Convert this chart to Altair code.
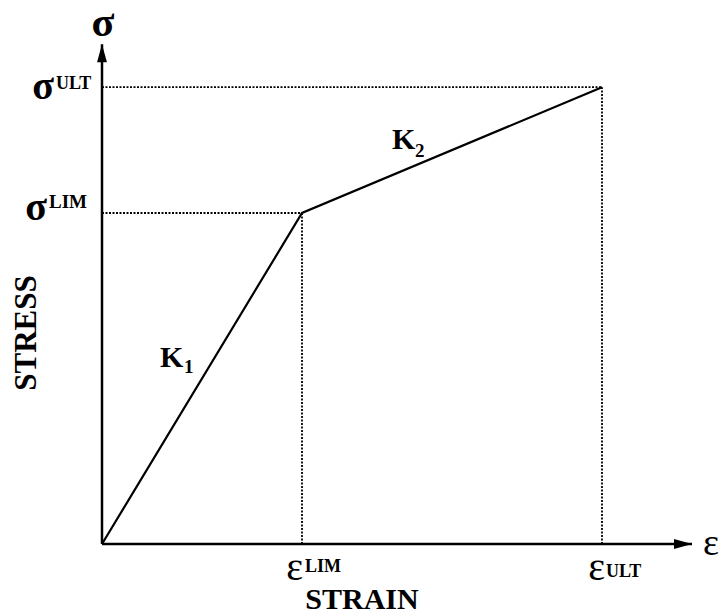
import altair as alt
import pandas as pd

# Bilinear stress-strain law (normalised units)
point_names = ["O", "LIM", "ULT"]
strain_pts = [0.0, 1.0, 2.5]
stress_pts = [0.0, 1.0, 1.38]

# Extent of the drawn axes (arrow tips)
strain_axis_end = 2.95
stress_axis_end = 1.51

W, H = 719, 615
FONT = "Liberation Serif"

x_scale = alt.Scale(domain=[-0.51, 3.085], nice=False, zero=False)
y_scale = alt.Scale(domain=[-0.2145, 1.6435], nice=False, zero=False)
no_axis = None

curve_df = pd.DataFrame({"name": point_names, "strain": strain_pts,
                         "stress": stress_pts, "order": [0, 1, 2]})

# Dotted guide lines from the break points to both axes
guides = []
for n, e, s in zip(point_names[1:], strain_pts[1:], stress_pts[1:]):
    guides.append({"x": 0.0, "x2": e, "y": s, "y2": s})
    guides.append({"x": e, "x2": e, "y": 0.0, "y2": s})
guide_df = pd.DataFrame(guides)

axes_df = pd.DataFrame([
    {"x": 0.0, "x2": strain_axis_end, "y": 0.0, "y2": 0.0},
    {"x": 0.0, "x2": 0.0, "y": 0.0, "y2": stress_axis_end},
])

X = lambda f="x": alt.X(f"{f}:Q", scale=x_scale, axis=no_axis)
Y = lambda f="y": alt.Y(f"{f}:Q", scale=y_scale, axis=no_axis)

guide_layer = alt.Chart(guide_df).mark_rule(
    color="black", strokeWidth=1.8, strokeDash=[2, 1.5]
).encode(x=X(), x2="x2:Q", y=Y(), y2="y2:Q")

axes_layer = alt.Chart(axes_df).mark_rule(
    color="black", strokeWidth=2.5
).encode(x=X(), x2="x2:Q", y=Y(), y2="y2:Q")

x_arrow = alt.Chart(pd.DataFrame({"x": [strain_axis_end], "y": [0.0]})).mark_point(
    shape="M0,0L-2,-0.55L-2,0.55Z", size=324, filled=True, color="black", opacity=1
).encode(x=X(), y=Y())

y_arrow = alt.Chart(pd.DataFrame({"x": [0.0], "y": [stress_axis_end]})).mark_point(
    shape="M0,0L-0.55,2L0.55,2Z", size=324, filled=True, color="black", opacity=1
).encode(x=X(), y=Y())

curve = alt.Chart(curve_df).mark_line(color="black", strokeWidth=2.2).encode(
    x=alt.X("strain:Q", scale=x_scale, axis=no_axis),
    y=alt.Y("stress:Q", scale=y_scale, axis=no_axis),
    order="order:Q",
)


def label(xv, yv, text, size, dx=0, dy=0, align="left", baseline="alphabetic",
          weight="bold"):
    return alt.Chart(pd.DataFrame({"x": [xv], "y": [yv]})).mark_text(
        text=text, font=FONT, fontSize=size, fontWeight=weight, color="black",
        align=align, baseline=baseline, dx=dx, dy=dy,
    ).encode(x=X(), y=Y())


e_lim, e_ult = strain_pts[1], strain_pts[2]
s_lim, s_ult = stress_pts[1], stress_pts[2]
k1_x, k1_y = (strain_pts[0] + e_lim) / 2, (stress_pts[0] + s_lim) / 2
k2_x, k2_y = (e_lim + e_ult) / 2, (s_lim + s_ult) / 2

labels = [
    label(0.0, stress_axis_end, "σ", 42, dx=1, dy=-8, align="center"),
    label(0.0, s_ult, "σ", 40, dx=-48, dy=12, align="right"),
    label(0.0, s_ult, "ULT", 18, dx=-46, dy=2),
    label(0.0, s_lim, "σ", 40, dx=-55, dy=7, align="right"),
    label(0.0, s_lim, "LIM", 19, dx=-53, dy=-5),
    label(e_lim, 0.0, "ε", 40, dx=1, dy=36, align="right", weight="normal"),
    label(e_lim, 0.0, "LIM", 18, dx=3, dy=28),
    label(e_ult, 0.0, "ε", 40, dx=3, dy=36, align="right", weight="normal"),
    label(e_ult, 0.0, "ULT", 18, dx=4, dy=33),
    label(strain_axis_end, 0.0, "ε", 38, dx=11, dy=11, weight="normal"),
    label(k1_x, k1_y, "K", 30, dx=-42, dy=-11.5),
    label(k1_x, k1_y, "1", 19, dx=-18, dy=-5),
    label(k2_x, k2_y, "K", 30, dx=-60, dy=-1),
    label(k2_x, k2_y, "2", 19, dx=-37, dy=7),
]

stress_title = alt.Chart(pd.DataFrame({"t": ["STRESS"]})).mark_text(
    font=FONT, fontSize=31, fontWeight="bold", color="black", angle=270,
    align="center", baseline="middle",
).encode(x=alt.value(27), y=alt.value(333), text="t:N")

strain_title = alt.Chart(pd.DataFrame({"t": ["STRAIN"]})).mark_text(
    font=FONT, fontSize=30, fontWeight="bold", color="black",
    align="center", baseline="alphabetic",
).encode(x=alt.value(362), y=alt.value(609), text="t:N")

chart = alt.layer(
    guide_layer, axes_layer, x_arrow, y_arrow, curve, *labels,
    stress_title, strain_title,
).properties(
    width=W, height=H, padding=0, autosize=alt.AutoSizeParams(type="none"),
    background="white",
).configure_view(stroke=None)

chart.save("out.html", embed_options={"renderer": "svg", "actions": False})
